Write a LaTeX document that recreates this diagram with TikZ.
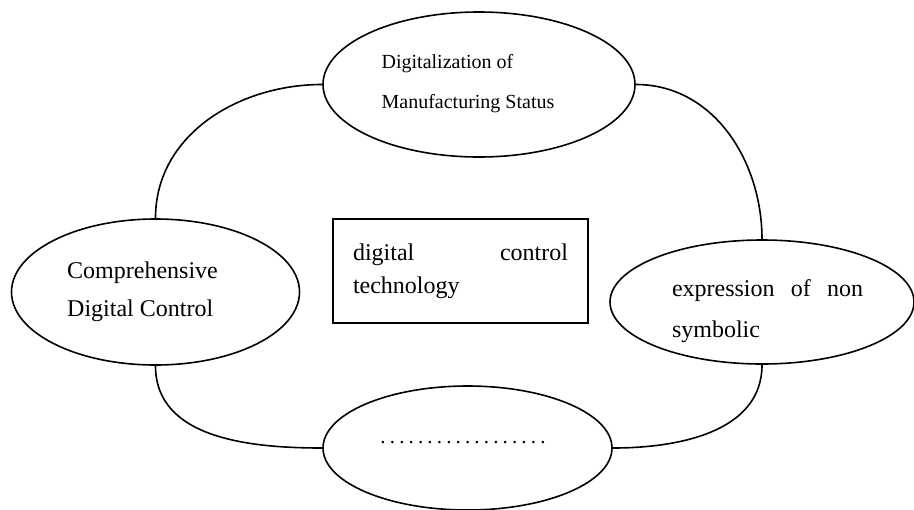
\documentclass[tikz,border=0pt]{standalone}
\usepackage{fontspec}
\setmainfont{Liberation Serif}
\usepackage{tikz}
\usetikzlibrary{shapes.geometric}
\newcommand{\smallsize}{\fontsize{10}{20}\selectfont}
\newcommand{\mainsize}[1]{\fontsize{12}{#1}\selectfont}
\newcommand{\widthframe}{127.5pt}
\newcommand{\heightframe}{52pt}
\tikzset{
    common/.style={draw, line width=0.8pt, inner sep=0pt},
    bubble/.style={common, ellipse},
    frame/.style={common, rectangle, minimum width=\widthframe, minimum height=\heightframe, align=left},
    caption/.style={inner sep=0pt, align=left},
    link/.style={line width=0.8pt}
}
\begin{document}
\begin{tikzpicture}[x=0.5pt, y=-0.5pt]
    \useasboundingbox (0,0) rectangle (914,509);

    \node[bubble, minimum width=156pt, minimum height=72.5pt] (status) at (479,84.5) {};
    \node[bubble, minimum width=144pt, minimum height=73pt] (control) at (155.5,292) {};
    \node[bubble, minimum width=152pt, minimum height=62pt] (symbolic) at (762,302) {};
    \node[bubble, minimum width=144.5pt, minimum height=62pt] (more) at (467.5,448) {};

    \node[caption, font=\smallsize] (status-text) at (468,83.4) {Digitalization of\\Manufacturing Status};
    \node[caption, font=\mainsize{19pt}] (control-text) at (142.5,292) {Comprehensive\\Digital Control};
    \node[caption, font=\mainsize{20.5pt}] (symbolic-text) at (767.5,311) {\makebox[95.5pt][s]{expression of non}\\symbolic};
    \node[frame, font=\mainsize{16.5pt}] (technology) at (460.5,271) {\makebox[107.5pt][s]{digital control}\\technology};
    \node[inner sep=0pt, anchor=base, font=\fontsize{10.5}{12}\selectfont] (more-text) at (463,443.5)
        {\makebox[84.6pt]{\leaders\hbox to 4.7pt{\hss.\hss}\hfill}};

    \draw[link] (control.north) to[out=90, in=180] (status.west);
    \draw[link] (status.east) to[out=0, in=90] (symbolic.north);
    \draw[link] (symbolic.south) to[out=-90, in=0] (more.east);
    \draw[link] (more.west) to[out=180, in=-90] (control.south);
\end{tikzpicture}
\end{document}
